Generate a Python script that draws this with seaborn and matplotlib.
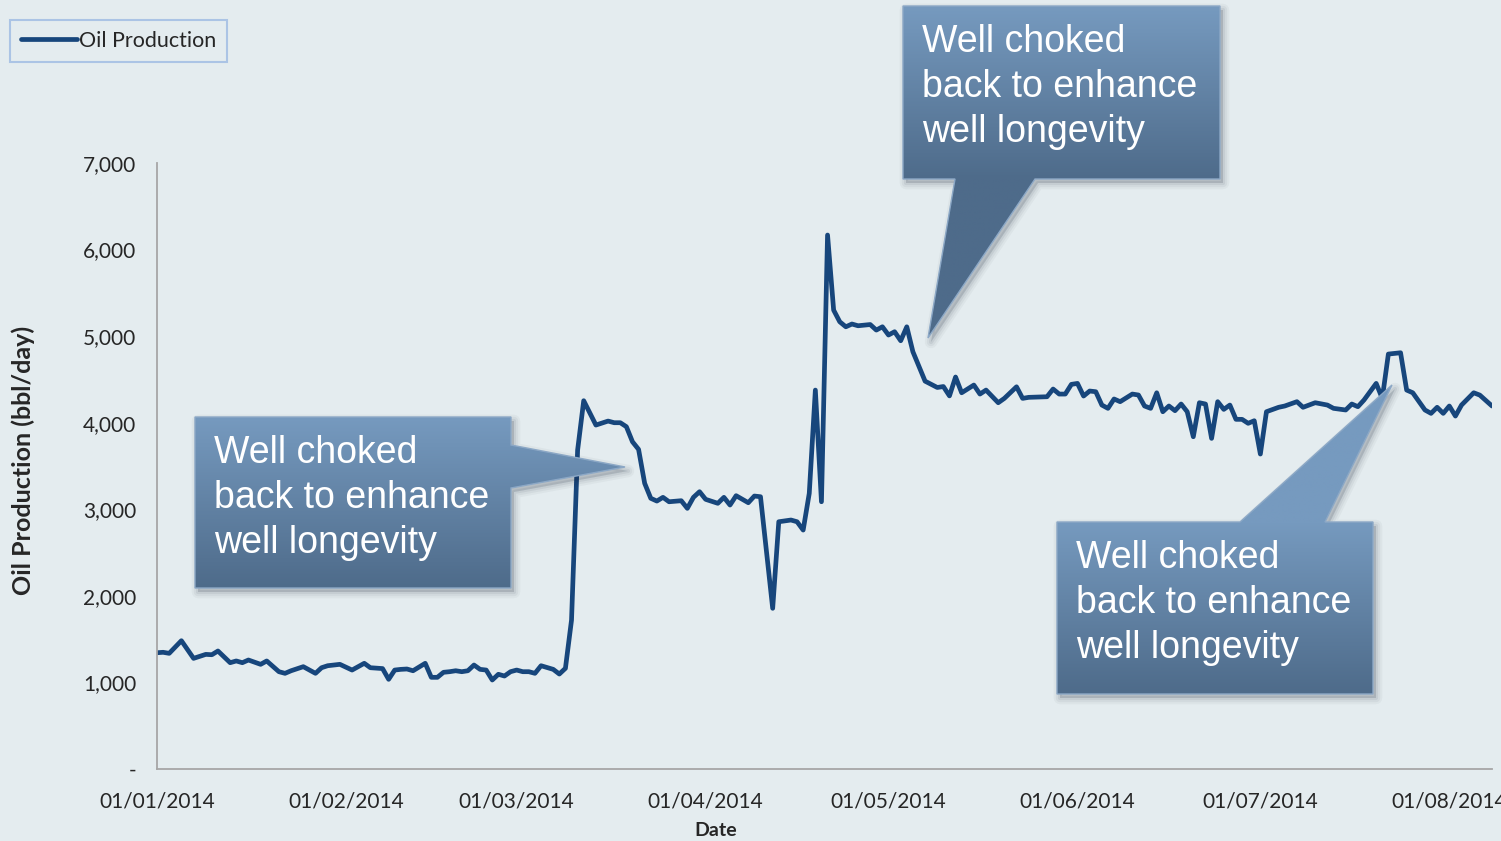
import numpy as np
import pandas as pd
import matplotlib
matplotlib.use("Agg")
import matplotlib.pyplot as plt
import matplotlib.dates as mdates
from matplotlib.ticker import FuncFormatter
from matplotlib.patches import Polygon
from matplotlib.colors import LinearSegmentedColormap
import seaborn as sns

# ---------------- data ----------------
start_date = "2014-01-01"
day_offsets = [0, 1, 2, 4, 6, 8, 9, 10, 12, 13, 14, 15, 17, 18, 20, 21, 22, 24, 26, 27,
               28, 30, 32, 34, 35, 37, 38, 39, 40, 41, 42, 44, 45, 46, 47, 48, 49, 50, 51, 52,
               53, 54, 55, 56, 57, 58, 59, 60, 61, 62, 63, 65, 66, 67, 68, 69, 70, 72, 74, 75,
               76, 77, 78, 79, 80, 81, 82, 83, 84, 86, 87, 88, 89, 90, 92, 93, 94, 95, 97, 98,
               99, 101, 102, 104, 105, 106, 107, 108, 109, 110, 111, 112, 113, 114, 115, 117, 118, 119, 120, 121,
               122, 123, 124, 126, 128, 129, 130, 131, 132, 134, 135, 136, 138, 139, 141, 142, 143, 146, 147, 148,
               149, 150, 151, 152, 153, 154, 155, 156, 157, 158, 160, 161, 162, 163, 164, 165, 166, 167, 168, 169,
               170, 171, 172, 173, 174, 175, 176, 177, 178, 179, 180, 181, 182, 184, 185, 187, 188, 190, 192, 193,
               195, 196, 197, 198, 200, 201, 202, 204, 205, 206, 208, 209, 210, 211, 212, 213, 214, 216, 217, 219]
oil_production = [1343, 1348, 1336, 1482, 1278, 1324, 1320, 1363, 1228, 1248, 1228, 1259, 1209, 1248, 1124, 1105, 1135, 1182, 1105, 1170,
                  1193, 1209, 1143, 1221, 1170, 1160, 1036, 1143, 1151, 1155, 1135, 1221, 1059, 1059, 1117, 1124, 1135, 1124, 1135, 1201,
                  1151, 1143, 1028, 1094, 1074, 1124, 1143, 1124, 1124, 1105, 1193, 1151, 1097, 1163, 1720, 3684, 4254, 3973, 4019, 4000,
                  4000, 3954, 3780, 3692, 3300, 3127, 3095, 3138, 3087, 3099, 3011, 3138, 3203, 3115, 3069, 3138, 3049, 3157, 3076, 3153,
                  3145, 1856, 2856, 2876, 2856, 2760, 3184, 4377, 3087, 6168, 5301, 5166, 5108, 5140, 5120, 5134, 5070, 5108, 5013, 5051,
                  4947, 5108, 4820, 4480, 4407, 4418, 4310, 4528, 4346, 4435, 4331, 4377, 4231, 4281, 4415, 4281, 4293, 4300, 4389, 4331,
                  4331, 4443, 4454, 4308, 4366, 4358, 4204, 4166, 4274, 4243, 4331, 4320, 4193, 4166, 4346, 4127, 4193, 4139, 4216, 4127,
                  3838, 4231, 4216, 3819, 4243, 4154, 4204, 4039, 4039, 3993, 4023, 3638, 4127, 4178, 4193, 4243, 4178, 4231, 4204, 4166,
                  4147, 4216, 4185, 4262, 4454, 4281, 4793, 4808, 4377, 4346, 4147, 4108, 4178, 4108, 4193, 4077, 4204, 4346, 4319, 4193]
y_ticks = [0, 1000, 2000, 3000, 4000, 5000, 6000, 7000]
x_tick_dates = ["2014-01-01", "2014-02-01", "2014-03-01", "2014-04-01",
                "2014-05-01", "2014-06-01", "2014-07-01", "2014-08-01"]
x_end_date = "2014-08-08"
series_name = "Oil Production"
y_label = "Oil Production (bbl/day)"
x_label = "Date"
callout_text = "Well choked\nback to enhance\nwell longevity"

# ---------------- style ----------------
sns.set_theme(style="white")
plt.rcParams["font.family"] = ["Lato", "DejaVu Sans"]

BG = "#E4ECEF"
LINE = "#17467C"
AXC = "#A6A6A6"
TXT = "#262626"

W, H = 1501, 841
fig = plt.figure(figsize=(W / 100, H / 100), dpi=100, facecolor=BG)
ax = fig.add_axes([157 / W, 1 - 769 / H, (1492 - 157) / W, (769 - 163) / H])
ax.set_facecolor(BG)

df = pd.DataFrame({
    "Date": pd.Timestamp(start_date) + pd.to_timedelta(day_offsets, unit="D"),
    series_name: oil_production,
})
sns.lineplot(data=df, x="Date", y=series_name, ax=ax, color=LINE, lw=3.4,
             label=series_name, legend=False)
for l in ax.lines:
    l.set_solid_joinstyle("round")
    l.set_solid_capstyle("round")

ax.set_ylim(0, 7000)
ax.set_yticks(y_ticks)
ax.yaxis.set_major_formatter(FuncFormatter(lambda v, p: "-" if v == 0 else f"{v:,.0f}"))
ax.set_xlim(pd.Timestamp(start_date), pd.Timestamp(x_end_date))
ax.set_xticks(pd.to_datetime(x_tick_dates))
ax.xaxis.set_major_formatter(mdates.DateFormatter("%d/%m/%Y"))

for s in ["top", "right"]:
    ax.spines[s].set_visible(False)
for s in ["left", "bottom"]:
    ax.spines[s].set_color(AXC)
    ax.spines[s].set_linewidth(1.3)
ax.tick_params(axis="both", direction="out", length=7, width=1.3, color=AXC,
               labelcolor=TXT, labelsize=15)
ax.tick_params(axis="x", pad=9)
ax.tick_params(axis="y", pad=8)
ax.grid(False)

ax.set_ylabel(y_label, fontsize=18, fontweight="bold", color=TXT)
ax.set_xlabel(x_label, fontsize=14, fontweight="bold", color=TXT)
ax.yaxis.set_label_coords((35 - 157) / (1492 - 157), (769 - 460) / (769 - 163))
ax.xaxis.set_label_coords((716 - 157) / (1492 - 157), (769 - 822) / (769 - 163))

# legend
h, lab = ax.get_legend_handles_labels()
leg = fig.legend(h, lab, loc="upper left", bbox_to_anchor=(10 / W, 1 - 20 / H),
                 frameon=True, fancybox=False, fontsize=15.5, handlelength=2.6,
                 handletextpad=0.12, borderpad=0.5, borderaxespad=0)
leg.get_frame().set_edgecolor("#9DBBE3")
leg.get_frame().set_linewidth(1.5)
leg.get_frame().set_facecolor(BG)
for t in leg.get_texts():
    t.set_color(TXT)

# ---------------- callouts (decorations, in pixel coordinates) ----------------
ov = fig.add_axes([0, 0, 1, 1])
ov.set_xlim(0, W)
ov.set_ylim(H, 0)
ov.axis("off")
ov.patch.set_alpha(0)

cmap = LinearSegmentedColormap.from_list("cg", ["#769ABF", "#4E6B8A"])
callouts = [
    ([(195, 417), (511, 417), (511, 445), (625, 467), (511, 488), (511, 588), (195, 588)],
     (417, 588), (214, 435)),
    ([(903, 6), (1220, 6), (1220, 179), (1035, 179), (928, 338), (955, 179), (903, 179)],
     (6, 179), (922, 24)),
    ([(1057, 522), (1240, 522), (1392, 385), (1325, 522), (1373, 522), (1373, 694), (1057, 694)],
     (522, 694), (1076, 540)),
]
for verts, (by0, by1), (tx, ty) in callouts:
    for k, a in [(9, 0.04), (6, 0.05), (3, 0.07)]:
        sh = Polygon([(x + 3, y + 4) for x, y in verts], closed=True, fc="#1a2a3a",
                     ec="#1a2a3a", lw=k, alpha=a, joinstyle="round", zorder=1)
        ov.add_patch(sh)
    poly = Polygon(verts, closed=True, fc="none", ec="#8CA8C6", lw=1.0, zorder=3)
    ov.add_patch(poly)
    xs = [v[0] for v in verts]
    ys = [v[1] for v in verts]
    y0, y1 = min(ys), max(ys)
    grid = np.linspace(y0, y1, 300)
    t = np.clip((grid - by0) / (by1 - by0), 0, 1)[:, None]
    im = ov.imshow(t, cmap=cmap, vmin=0, vmax=1, extent=(min(xs), max(xs), y1, y0),
                   aspect="auto", origin="upper", zorder=2, interpolation="bilinear")
    im.set_clip_path(poly)
    ov.text(tx, ty, callout_text, color="white", fontsize=27, family="Liberation Sans",
            ha="left", va="top", linespacing=1.33, zorder=4)
ov.set_xlim(0, W)
ov.set_ylim(H, 0)

fig.savefig("out.png", dpi=100, facecolor=BG)
